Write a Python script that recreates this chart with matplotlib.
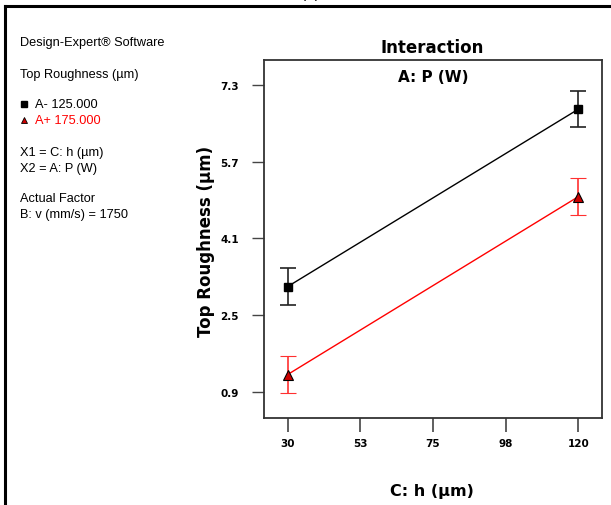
import matplotlib.pyplot as plt
from matplotlib.lines import Line2D

plt.rcParams['font.family'] = ['Liberation Sans', 'DejaVu Sans']

# data
h_levels = [30, 120]
low_p = [3.10, 6.79]      # A- 125.000
high_p = [1.27, 4.97]     # A+ 175.000
low_err = [0.38, 0.38]
high_err = [0.38, 0.38]

x_ticks = [30, 52.5, 75, 97.5, 120]
x_labels = ['30', '53', '75', '98', '120']
y_ticks = [0.9, 2.5, 4.1, 5.7, 7.3]
y_labels = ['0.9', '2.5', '4.1', '5.7', '7.3']

W, H = 611, 506
fig = plt.figure(figsize=(W / 100, H / 100), dpi=100)
bold = dict(family=['DejaVu Sans'], fontweight='bold')

# axes box in pixels: left 264, right 602, top 61, bottom 419
ax = fig.add_axes([264 / W, 1 - 419 / H, (602 - 264) / W, (419 - 61) / H])

ax.errorbar(h_levels, low_p, yerr=low_err, color='black', lw=1, marker='s', ms=6,
            mfc='black', mec='black', capsize=5.5, elinewidth=1.2, capthick=1.2,
            ecolor='#222222')
ax.errorbar(h_levels, high_p, yerr=high_err, color='red', lw=1, marker='^', ms=7,
            mfc='#cc0000', mec='black', mew=0.8, capsize=5.5, elinewidth=1.2,
            capthick=1.2, ecolor='#ff3030')

ax.set_xlim(22.66, 127.34)
ax.set_ylim(0.365, 7.814)
ax.set_xticks(x_ticks)
ax.set_xticklabels(x_labels, fontsize=7.5, **bold)
ax.set_yticks(y_ticks)
ax.set_yticklabels(y_labels, fontsize=7.5, **bold)
ax.tick_params(axis='x', length=10, width=1.2, color='#444444', pad=4.5)
ax.tick_params(axis='y', length=9, width=1, color='#444444', pad=9)
for s in ax.spines.values():
    s.set_linewidth(1.3)
    s.set_color('#333333')

ax.text(0.5, 0.955, 'A: P (W)', transform=ax.transAxes, ha='center', va='center',
        fontsize=11, **bold)
fig.text(432 / W, 1 - 48 / H, 'Interaction', ha='center', va='center',
         fontsize=12, **bold)
fig.text(432 / W, 1 - 492 / H, 'C: h (µm)', ha='center', va='center',
         fontsize=11.5, **bold)
fig.text(206 / W, 1 - 241 / H, 'Top Roughness (µm)', ha='center', va='center',
         rotation=90, fontsize=12, **bold)

# left info panel
fs = 9.2
fig.text(20 / W, 1 - 43 / H, 'Design-Expert® Software', fontsize=fs, va='center')
fig.text(20 / W, 1 - 75 / H, 'Top Roughness (µm)', fontsize=fs, va='center')
fig.add_artist(Line2D([24 / W], [1 - 105 / H], marker='s', ms=4, color='black',
                      transform=fig.transFigure))
fig.text(35 / W, 1 - 105 / H, 'A- 125.000', fontsize=fs, va='center')
fig.add_artist(Line2D([24 / W], [1 - 121 / H], marker='^', ms=5, mfc='#cc0000',
                      mec='black', mew=0.6, transform=fig.transFigure))
fig.text(35 / W, 1 - 121 / H, 'A+ 175.000', fontsize=fs, va='center', color='red')
fig.text(20 / W, 1 - 153 / H, 'X1 = C: h (µm)', fontsize=fs, va='center')
fig.text(20 / W, 1 - 169 / H, 'X2 = A: P (W)', fontsize=fs, va='center')
fig.text(20 / W, 1 - 199 / H, 'Actual Factor', fontsize=fs, va='center')
fig.text(20 / W, 1 - 215 / H, 'B: v (mm/s) = 1750', fontsize=fs, va='center')

# outer frame (cropped figure border)
fig.add_artist(Line2D([5 / W, 1], [1 - 7 / H, 1 - 7 / H], color='black', lw=2.2,
                      transform=fig.transFigure))
fig.add_artist(Line2D([5 / W, 5 / W], [0, 1 - 7 / H], color='black', lw=2.2,
                      transform=fig.transFigure))
# panel label cut off by the top edge, as in the source figure
fig.text(310 / W, 1 + 2 / H, '(a)', ha='center', va='baseline', fontsize=11)

fig.savefig('out.png', dpi=100)
